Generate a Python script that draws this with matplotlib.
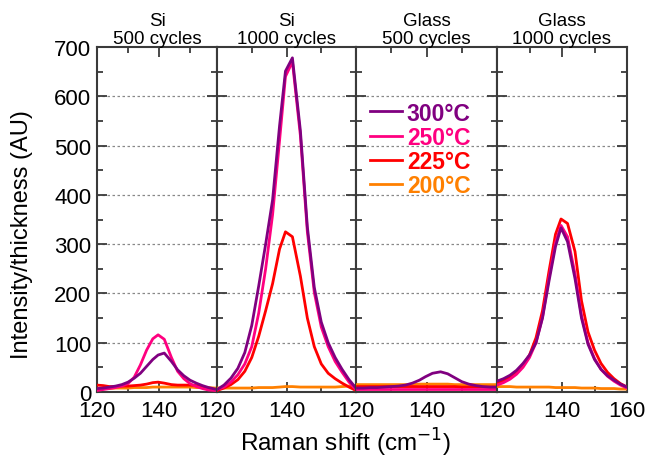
import matplotlib.pyplot as plt
from matplotlib.ticker import MultipleLocator

plt.rcParams['font.family'] = ['Liberation Sans', 'DejaVu Sans']

# Raman shift sample points (cm^-1), shared by every curve
shift = [120, 122, 124, 126, 128, 130, 132, 134, 136, 138, 139.7, 141.7,
         144, 146, 148, 150, 152, 154, 156, 158, 160]

titles = ["Si\n500 cycles", "Si\n1000 cycles", "Glass\n500 cycles", "Glass\n1000 cycles"]
temps = ["300°C", "250°C", "225°C", "200°C"]
colors = ["#800080", "#FF0080", "#FF0000", "#FF8000"]

# Si, 500 cycles
si500_300 = [7, 8, 10, 12, 15, 20, 28, 38, 52, 66, 75, 79, 62, 45, 33, 24, 18, 13, 9, 6, 5]
si500_250 = [3, 5, 7, 9, 12, 17, 30, 55, 85, 108, 116, 107, 70, 42, 27, 17, 11, 7, 4, 3, 3]
si500_225 = [14, 13, 11, 11, 12, 12, 13, 14, 16, 19, 20, 18, 15, 14, 14, 14, 13, 10, 7, 5, 5]
si500_200 = [6, 7, 7, 8, 8, 8, 9, 9, 9, 10, 10, 10, 10, 10, 10, 10, 9, 9, 9, 8, 8]

# Si, 1000 cycles
si1000_300 = [5, 14, 28, 48, 80, 135, 215, 300, 390, 540, 651, 678, 530, 335, 212, 142, 100, 70, 46, 25, 8]
si1000_250 = [5, 10, 20, 35, 57, 92, 160, 250, 360, 510, 640, 670, 520, 325, 202, 132, 92, 62, 40, 20, 5]
si1000_225 = [3, 8, 15, 25, 42, 70, 113, 165, 220, 290, 325, 315, 235, 150, 92, 57, 38, 27, 18, 10, 3]
si1000_200 = [8, 8, 8, 8, 8, 8, 9, 9, 9, 10, 11, 11, 10, 10, 10, 10, 10, 10, 11, 12, 13]

# Glass, 500 cycles
gl500_300 = [8, 8, 9, 9, 10, 11, 12, 14, 18, 24, 31, 38, 41, 37, 29, 21, 16, 13, 11, 10, 10]
gl500_250 = [6, 6, 6, 6, 6, 6, 6, 6, 6, 6, 6, 6, 6, 6, 6, 6, 6, 6, 6, 6, 6]
gl500_225 = [11, 11, 11, 11, 11, 11, 11, 11, 11, 11, 11, 11, 11, 11, 11, 10, 10, 10, 10, 10, 10]
gl500_200 = [15, 15, 15, 15, 15, 15, 15, 15, 15, 16, 16, 16, 16, 16, 15, 15, 15, 15, 15, 15, 15]

# Glass, 1000 cycles
gl1000_300 = [22, 27, 34, 44, 58, 75, 100, 150, 225, 295, 333, 305, 230, 150, 97, 66, 46, 33, 24, 16, 10]
gl1000_250 = [14, 19, 26, 36, 50, 70, 100, 152, 232, 303, 338, 315, 240, 155, 100, 68, 46, 32, 22, 14, 8]
gl1000_225 = [18, 23, 30, 40, 55, 75, 110, 165, 245, 320, 351, 342, 285, 185, 122, 85, 58, 40, 27, 17, 10]
gl1000_200 = [11, 11, 11, 10, 10, 10, 10, 10, 10, 9, 9, 9, 9, 8, 8, 8, 7, 7, 7, 6, 6]

panels = [
    [si500_300, si500_250, si500_225, si500_200],
    [si1000_300, si1000_250, si1000_225, si1000_200],
    [gl500_300, gl500_250, gl500_225, gl500_200],
    [gl1000_300, gl1000_250, gl1000_225, gl1000_200],
]

W, H = 648, 460
fig = plt.figure(figsize=(W / 100, H / 100), dpi=100)

edges = [97, 217, 356, 497, 627]
xmax = [158.7, 160, 160, 160]
top, bottom = 48, 393
spine_col = "#3a3a3a"

axes = []
for i in range(4):
    ax = fig.add_axes([edges[i] / W, (H - bottom) / H,
                       (edges[i + 1] - edges[i]) / W, (bottom - top) / H])
    axes.append(ax)
    curves = panels[i]
    # draw back to front: 200, 225, 250, 300
    for k in [3, 2, 1, 0]:
        ax.plot(shift, curves[k], color=colors[k], lw=2, label=temps[k], zorder=3 + (3 - k))
    ax.set_xlim(120, xmax[i])
    ax.set_ylim(0, 700)
    ax.xaxis.set_major_locator(MultipleLocator(20))
    ax.xaxis.set_minor_locator(MultipleLocator(10))
    ax.yaxis.set_major_locator(MultipleLocator(100))
    ax.yaxis.set_minor_locator(MultipleLocator(50))
    ax.tick_params(which='both', direction='in', top=True, right=True,
                   color=spine_col, width=1.3)
    ax.tick_params(which='major', length=7, labelsize=16)
    ax.tick_params(axis='x', pad=6)
    ax.tick_params(axis='y', pad=4)
    ax.tick_params(which='minor', length=4)
    for s in ax.spines.values():
        s.set_color(spine_col)
        s.set_linewidth(1.5)
    for v in range(100, 700, 100):
        ax.axhline(v, color='#888888', lw=0.9, ls=(0, (2, 2)), zorder=1)
    if i > 0:
        ax.tick_params(axis='y', labelleft=False)
    if i < 3:
        ax.set_xticks([120, 140])
    else:
        ax.set_xticks([120, 140, 160])
    ax.set_title(titles[i], fontsize=13.5, pad=2, linespacing=1.1)

axes[0].set_ylabel("Intensity/thickness (AU)", fontsize=17)
axes[0].yaxis.set_label_coords(-0.53, 0.46)
fig.text(345 / W, (H - 443) / H, "Raman shift (cm$^{-1}$)",
         ha='center', va='center', fontsize=17.5)

handles, labels = axes[1].get_legend_handles_labels()
order = [3, 2, 1, 0]
leg = axes[2].legend([handles[j] for j in order], [labels[j] for j in order],
                     loc='upper left', bbox_to_anchor=(0.1, 0.842), frameon=False,
                     handlelength=1.4, handletextpad=0.2, labelspacing=0.05,
                     borderpad=0.0, borderaxespad=0.0,
                     prop={'weight': 'bold', 'size': 16.5}, labelcolor='linecolor')

fig.savefig("out.png", dpi=100)
